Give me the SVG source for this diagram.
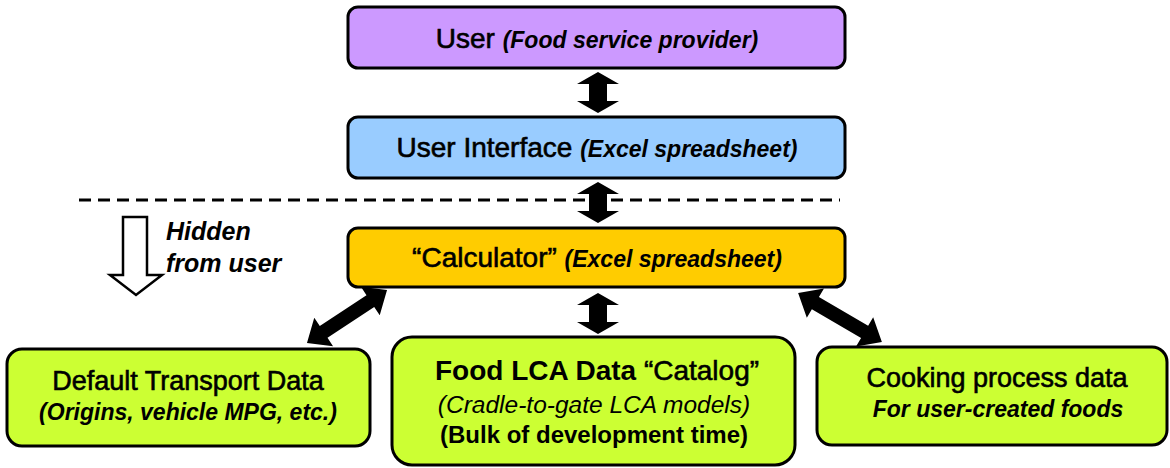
<svg xmlns="http://www.w3.org/2000/svg" width="1170" height="468" viewBox="0 0 1170 468">
<style>
text{font-family:"Liberation Sans",Arial,sans-serif;fill:#000}
.box{stroke:#000;stroke-width:3}
.main{font-size:28px;stroke:#000;stroke-width:0.6}
.reg{stroke:#000;stroke-width:0.6}
.sub{font-size:23px;font-weight:bold;font-style:italic}
.arr{fill:#000}
</style>
<rect width="1170" height="468" fill="#fff"/>
<g id="user">
<rect class="box" x="348" y="7" width="497" height="61" rx="10" fill="#CC99FF"/>
<text x="597" y="48" text-anchor="middle"><tspan class="main">User </tspan><tspan class="sub">(Food service provider)</tspan></text>
</g>
<g id="ui">
<rect class="box" x="348" y="117" width="497" height="61" rx="10" fill="#99CCFF"/>
<text x="597" y="157" text-anchor="middle"><tspan class="main">User Interface </tspan><tspan class="sub">(Excel spreadsheet)</tspan></text>
</g>
<g id="calculator">
<rect class="box" x="348" y="228" width="497" height="59" rx="10" fill="#FFCC00"/>
<text x="597" y="267" text-anchor="middle"><tspan class="main">“Calculator” </tspan><tspan class="sub">(Excel spreadsheet)</tspan></text>
</g>
<g id="hidden">
<line x1="79" y1="200" x2="840" y2="200" stroke="#000" stroke-width="3" stroke-dasharray="12 7"/>
<polygon points="123,217 147,217 147,275 162,275 136,295 110,275 123,275" fill="#fff" stroke="#000" stroke-width="2.5"/>
<text x="166" y="240" font-size="25" font-weight="bold" font-style="italic">Hidden</text>
<text x="166" y="272" font-size="25" font-weight="bold" font-style="italic">from user</text>
</g>
<g id="transport">
<rect class="box" x="7" y="349" width="363" height="97" rx="15" fill="#CCFF33"/>
<text class="reg" x="188" y="390" text-anchor="middle" font-size="27">Default Transport Data</text>
<text x="188" y="420" text-anchor="middle" font-size="23" font-weight="bold" font-style="italic">(Origins, vehicle MPG, etc.)</text>
</g>
<g id="catalog">
<rect class="box" x="392" y="337" width="403" height="128" rx="20" fill="#CCFF33"/>
<text x="597" y="380" text-anchor="middle" font-size="28"><tspan font-weight="bold">Food LCA Data </tspan><tspan class="reg">“Catalog”</tspan></text>
<text x="594" y="413" text-anchor="middle" font-size="24.5" font-style="italic">(Cradle-to-gate LCA models)</text>
<text x="594" y="443" text-anchor="middle" font-size="24" font-weight="bold">(Bulk of development time)</text>
</g>
<g id="cooking">
<rect class="box" x="817" y="347" width="350" height="98" rx="15" fill="#CCFF33"/>
<text class="reg" x="997" y="387" text-anchor="middle" font-size="27">Cooking process data</text>
<text x="998" y="417" text-anchor="middle" font-size="23" font-weight="bold" font-style="italic">For user-created foods</text>
</g>
<g id="connectors" class="arr">
<polygon points="598,72 619,84 607,84 607,101 619,101 598,113 577,101 589,101 589,84 577,84"/>
<polygon points="598,182 619,194 607,194 607,211 619,211 598,223 577,211 589,211 589,194 577,194"/>
<polygon points="598,293 619,305 607,305 607,322 619,322 598,334 577,322 589,322 589,305 577,305"/>
<polygon transform="translate(347,316.5) rotate(-33.5)" points="-48,0 -28,-17 -28,-7 28,-7 28,-17 48,0 28,17 28,7 -28,7 -28,17"/>
<polygon transform="translate(840,317.5) rotate(30.3)" points="-48.5,0 -28.5,-17 -28.5,-7 28.5,-7 28.5,-17 48.5,0 28.5,17 28.5,7 -28.5,7 -28.5,17"/>
</g>
</svg>
